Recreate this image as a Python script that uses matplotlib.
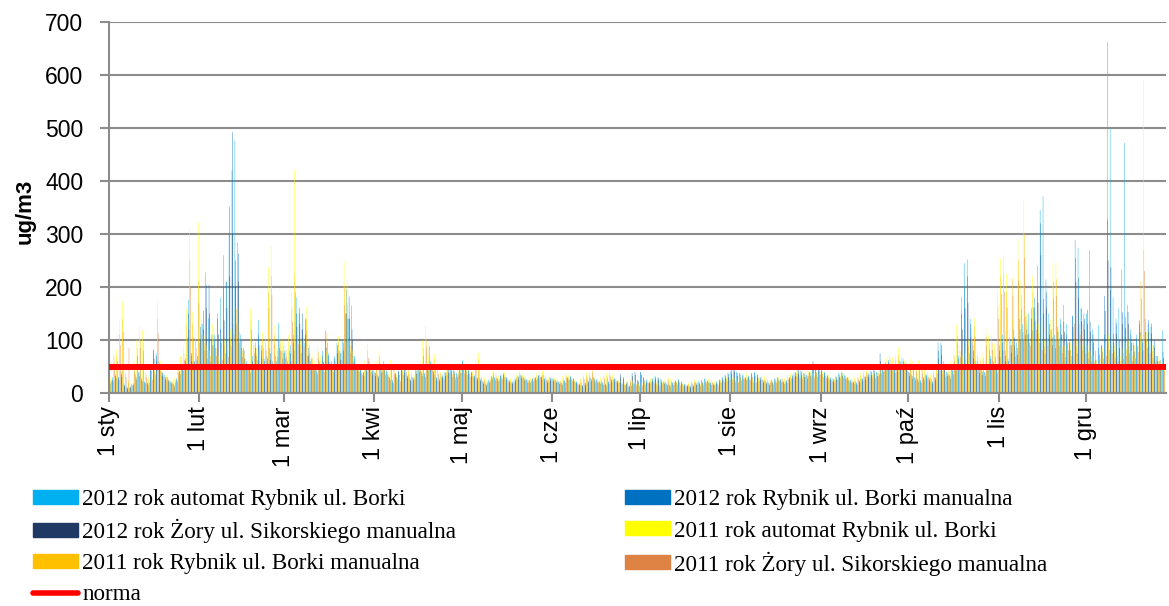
import numpy as np
import matplotlib
matplotlib.use("Agg")
import matplotlib.pyplot as plt
from matplotlib.patches import Patch
from matplotlib.lines import Line2D

# daily PM10 values, 1 sty .. 27 gru (one row per month)
auto_2012 = [
    22, 30, 35, 28, 40, 18, 12, 10, 14, 35, 40, 28, 22, 20, 55, 80, 75, 60, 40, 35, 30, 22, 18, 28, 42, 55, 65, 176, 70, 58, 62,
    95, 130, 227, 141, 100, 110, 150, 180, 260, 210, 300, 420, 476, 284, 110, 85, 60, 45, 70, 95, 137, 90, 65, 70, 85, 60, 70, 132, 55,
    75, 60, 90, 110, 180, 150, 120, 95, 70, 60, 55, 45, 60, 80, 118, 75, 60, 70, 95, 80, 100, 150, 140, 165, 70, 55, 48, 40, 52, 60, 45,
    40, 35, 50, 60, 45, 30, 25, 38, 42, 55, 48, 35, 28, 30, 45, 52, 40, 38, 55, 60, 42, 30, 28, 35, 40, 48, 52, 45, 38, 45,
    62, 55, 45, 40, 35, 30, 28, 22, 18, 25, 32, 30, 28, 35, 38, 30, 25, 22, 28, 32, 35, 30, 26, 24, 28, 30, 34, 32, 28, 25, 30,
    28, 25, 22, 20, 24, 30, 32, 28, 22, 18, 15, 20, 25, 28, 30, 26, 22, 20, 18, 22, 26, 28, 24, 20, 18, 15, 12, 14, 18, 22,
    38, 30, 25, 22, 28, 32, 30, 26, 22, 18, 16, 20, 24, 26, 22, 18, 15, 14, 16, 20, 22, 25, 28, 24, 20, 18, 22, 26, 30, 35, 38,
    42, 45, 40, 38, 35, 30, 32, 38, 40, 36, 30, 25, 22, 20, 25, 28, 30, 26, 22, 24, 30, 35, 40, 44, 42, 38, 35, 40, 45, 48, 55,
    45, 40, 35, 30, 28, 32, 38, 40, 35, 30, 25, 22, 20, 24, 28, 32, 38, 42, 45, 40, 35, 50, 58, 62, 55, 48, 52, 60, 65, 58,
    40, 35, 30, 28, 25, 30, 35, 28, 22, 30, 95, 95, 60, 40, 35, 45, 55, 70, 181, 245, 252, 140, 90, 60, 50, 45, 40, 55, 70, 60, 50,
    90, 110, 80, 65, 100, 120, 95, 140, 130, 110, 150, 160, 180, 241, 345, 371, 214, 150, 120, 110, 125, 140, 166, 130, 100, 145, 289, 274, 160, 150,
    150, 269, 120, 80, 128, 90, 110, 662, 500, 180, 140, 160, 232, 472, 166, 120, 95, 110, 130, 100, 140, 130, 125, 90, 70, 60, 118,
]
rybnik_2012 = [
    20, 25, 32, 30, 35, 15, 10, 12, 18, 30, 38, 25, 20, 18, 50, 82, 70, 55, 38, 30, 25, 20, 15, 25, 40, 50, 60, 150, 75, 60, 70,
    125, 155, 204, 204, 110, 100, 140, 120, 200, 210, 351, 492, 250, 263, 100, 80, 55, 45, 60, 85, 110, 80, 60, 65, 75, 55, 60, 100, 80,
    80, 55, 75, 95, 150, 160, 150, 140, 85, 65, 50, 40, 55, 70, 100, 70, 55, 65, 90, 75, 95, 196, 182, 120, 65, 50, 45, 38, 48, 55, 42,
    38, 32, 45, 55, 40, 28, 22, 35, 40, 50, 45, 32, 25, 28, 42, 48, 38, 35, 50, 55, 40, 28, 25, 32, 38, 45, 48, 42, 35, 45,
    58, 50, 42, 38, 32, 28, 25, 20, 16, 22, 30, 28, 25, 32, 35, 28, 22, 20, 25, 30, 32, 28, 24, 22, 26, 28, 32, 30, 26, 22, 28,
    26, 22, 20, 18, 22, 28, 30, 26, 20, 16, 14, 18, 22, 26, 28, 24, 20, 18, 16, 20, 24, 26, 22, 36, 30, 20, 14, 38, 40, 25,
    40, 28, 22, 20, 26, 30, 28, 24, 20, 16, 14, 18, 22, 24, 20, 16, 14, 12, 14, 18, 20, 22, 26, 22, 18, 16, 20, 24, 28, 32, 36,
    43, 47, 38, 36, 32, 28, 30, 36, 38, 34, 28, 22, 20, 18, 22, 26, 28, 24, 20, 22, 28, 32, 38, 43, 40, 36, 32, 38, 60, 45, 50,
    42, 38, 32, 28, 25, 30, 35, 38, 32, 28, 22, 20, 18, 22, 26, 30, 35, 40, 42, 38, 75, 48, 55, 58, 50, 45, 48, 55, 60, 55,
    38, 32, 28, 25, 22, 28, 32, 25, 20, 28, 80, 90, 55, 38, 32, 42, 50, 65, 150, 200, 220, 130, 80, 55, 45, 40, 38, 50, 65, 55, 45,
    80, 95, 70, 60, 90, 105, 85, 120, 115, 144, 112, 140, 160, 200, 320, 177, 190, 130, 105, 100, 115, 130, 134, 110, 95, 146, 254, 217, 159, 140,
    157, 134, 110, 63, 85, 90, 183, 326, 194, 112, 131, 100, 152, 144, 153, 110, 90, 103, 137, 95, 115, 137, 131, 100, 70, 62, 78,
]
zory_2012 = [
    18, 22, 28, 25, 30, 12, 8, 10, 15, 25, 32, 22, 18, 15, 42, 65, 60, 48, 32, 25, 22, 18, 12, 22, 35, 42, 50, 120, 60, 50, 55,
    100, 120, 160, 150, 90, 85, 110, 95, 137, 160, 220, 300, 200, 210, 85, 65, 45, 38, 50, 70, 90, 65, 50, 55, 62, 45, 50, 85, 65,
    65, 45, 60, 80, 125, 130, 120, 110, 70, 52, 42, 35, 45, 58, 85, 58, 45, 55, 75, 62, 80, 150, 140, 100, 52, 42, 38, 32, 40, 45, 35,
    32, 28, 38, 45, 34, 24, 18, 30, 34, 42, 38, 28, 22, 24, 36, 40, 32, 30, 42, 46, 34, 24, 22, 28, 32, 38, 40, 36, 30, 38,
    48, 42, 36, 32, 28, 24, 22, 17, 14, 19, 26, 24, 22, 28, 30, 24, 19, 17, 22, 26, 28, 24, 20, 19, 22, 24, 28, 26, 22, 19, 24,
    22, 19, 17, 15, 19, 24, 26, 22, 17, 14, 12, 15, 19, 22, 24, 20, 17, 15, 14, 17, 20, 22, 19, 30, 26, 17, 12, 32, 34, 21,
    34, 24, 19, 17, 22, 26, 24, 20, 17, 14, 12, 15, 19, 20, 17, 14, 12, 10, 12, 15, 17, 19, 22, 19, 15, 14, 17, 20, 24, 27, 30,
    36, 40, 32, 30, 27, 24, 25, 30, 32, 29, 24, 19, 17, 15, 19, 22, 24, 20, 17, 19, 24, 27, 32, 36, 34, 30, 27, 32, 45, 38, 42,
    36, 32, 27, 24, 21, 25, 30, 32, 27, 24, 19, 17, 15, 19, 22, 25, 30, 34, 36, 32, 60, 40, 46, 48, 42, 38, 40, 46, 50, 46,
    32, 27, 24, 21, 19, 24, 27, 21, 17, 24, 65, 72, 46, 32, 27, 35, 42, 55, 120, 160, 170, 105, 65, 46, 38, 34, 32, 42, 55, 46, 38,
    68, 80, 60, 50, 76, 90, 72, 100, 98, 120, 95, 118, 135, 170, 260, 150, 160, 110, 90, 85, 98, 110, 115, 95, 80, 125, 210, 180, 135, 120,
    130, 115, 95, 55, 72, 78, 155, 250, 237, 95, 112, 85, 130, 122, 130, 95, 78, 88, 115, 80, 98, 115, 112, 85, 60, 52, 66,
]
auto_2011 = [
    30, 80, 82, 137, 172, 40, 25, 20, 60, 100, 126, 118, 40, 30, 35, 45, 173, 60, 40, 35, 28, 25, 30, 55, 70, 90, 159, 311, 153, 120, 322,
    150, 110, 90, 80, 130, 95, 70, 85, 100, 90, 120, 150, 110, 130, 90, 75, 60, 158, 100, 85, 70, 115, 108, 238, 277, 128, 90, 110, 100,
    90, 110, 190, 421, 130, 100, 120, 163, 100, 75, 60, 88, 70, 55, 80, 65, 55, 70, 107, 84, 249, 206, 100, 80, 60, 55, 45, 60, 94, 55, 50,
    60, 80, 55, 45, 40, 62, 50, 35, 30, 45, 55, 48, 40, 35, 50, 60, 100, 127, 70, 65, 74, 50, 40, 35, 45, 52, 40, 35, 45, 50,
    50, 45, 40, 42, 64, 76, 35, 30, 25, 30, 45, 38, 32, 35, 40, 30, 28, 25, 35, 43, 38, 32, 28, 30, 34, 38, 40, 45, 35, 30, 32,
    30, 28, 25, 32, 38, 35, 30, 25, 22, 28, 35, 38, 40, 32, 28, 25, 30, 35, 38, 42, 35, 30, 25, 22, 20, 25, 28, 22, 20, 18,
    20, 22, 25, 28, 24, 20, 18, 22, 26, 30, 28, 25, 22, 20, 18, 16, 20, 24, 26, 22, 18, 20, 24, 28, 25, 22, 20, 25, 28, 30, 32,
    30, 28, 25, 30, 35, 38, 32, 28, 25, 30, 35, 32, 28, 25, 22, 25, 30, 32, 28, 35, 38, 40, 42, 38, 35, 40, 44, 42, 38, 40, 45,
    40, 38, 35, 30, 28, 32, 36, 38, 35, 30, 28, 30, 34, 38, 42, 45, 40, 38, 35, 42, 50, 55, 65, 75, 68, 72, 86, 70, 62, 55,
    65, 60, 55, 62, 50, 45, 40, 35, 42, 50, 55, 48, 40, 45, 60, 82, 128, 90, 70, 75, 100, 141, 141, 80, 68, 75, 122, 110, 110, 92, 194,
    254, 260, 225, 120, 140, 92, 291, 212, 363, 150, 120, 220, 161, 130, 110, 100, 120, 140, 245, 247, 119, 100, 90, 110, 95, 80, 100, 120, 90, 100,
    90, 80, 70, 60, 75, 85, 95, 110, 100, 90, 80, 70, 85, 95, 100, 80, 90, 103, 110, 590, 115, 100, 90, 80, 70, 60, 55,
]
rybnik_2011 = [
    25, 70, 70, 110, 140, 35, 20, 18, 50, 85, 100, 95, 35, 25, 30, 40, 140, 50, 35, 30, 25, 22, 25, 45, 68, 75, 130, 250, 130, 100, 211,
    130, 95, 80, 70, 110, 85, 60, 75, 90, 80, 105, 130, 159, 115, 80, 65, 55, 140, 90, 75, 60, 100, 95, 190, 220, 110, 80, 95, 90,
    80, 95, 160, 223, 110, 90, 105, 140, 90, 65, 52, 78, 60, 48, 113, 58, 48, 60, 95, 75, 200, 170, 90, 70, 52, 48, 40, 52, 80, 48, 45,
    52, 70, 48, 40, 35, 55, 44, 30, 26, 40, 48, 42, 35, 30, 44, 52, 85, 100, 88, 58, 64, 44, 35, 30, 40, 45, 35, 30, 40, 44,
    44, 40, 35, 37, 55, 64, 30, 26, 22, 26, 40, 33, 28, 30, 35, 26, 24, 22, 30, 38, 33, 28, 24, 26, 30, 33, 35, 40, 30, 26, 28,
    26, 24, 22, 28, 33, 30, 26, 22, 19, 24, 30, 33, 35, 45, 24, 22, 26, 30, 33, 37, 30, 26, 22, 19, 17, 22, 24, 19, 17, 16,
    17, 19, 22, 24, 21, 17, 16, 19, 22, 26, 24, 22, 19, 17, 16, 14, 17, 21, 22, 19, 16, 17, 21, 24, 22, 19, 17, 22, 24, 26, 28,
    26, 24, 22, 26, 30, 33, 28, 24, 22, 26, 30, 28, 24, 22, 19, 22, 26, 28, 24, 30, 33, 35, 37, 33, 30, 35, 38, 37, 33, 35, 40,
    35, 33, 30, 26, 24, 28, 31, 33, 30, 26, 24, 26, 30, 33, 37, 40, 35, 33, 30, 37, 44, 48, 56, 65, 60, 62, 72, 60, 54, 48,
    56, 52, 48, 54, 44, 40, 35, 30, 37, 44, 48, 42, 35, 40, 52, 70, 110, 80, 60, 65, 88, 120, 125, 70, 60, 65, 105, 95, 95, 80, 165,
    220, 225, 190, 105, 216, 80, 250, 185, 300, 130, 105, 190, 140, 112, 95, 88, 105, 120, 210, 215, 105, 88, 80, 95, 82, 70, 88, 130, 80, 88,
    78, 70, 60, 52, 65, 75, 82, 95, 88, 78, 70, 60, 75, 82, 88, 70, 78, 90, 210, 270, 100, 88, 78, 70, 60, 52, 48,
]
zory_2011 = [
    22, 55, 60, 90, 115, 30, 85, 15, 40, 70, 85, 80, 30, 20, 25, 35, 112, 42, 30, 25, 20, 18, 20, 38, 55, 62, 105, 200, 105, 85, 170,
    110, 80, 65, 60, 90, 70, 50, 62, 75, 68, 88, 110, 130, 95, 68, 55, 45, 120, 75, 62, 50, 85, 80, 160, 185, 92, 68, 80, 75,
    68, 80, 135, 190, 92, 75, 88, 118, 75, 55, 44, 65, 50, 40, 95, 48, 40, 50, 80, 62, 165, 140, 75, 58, 44, 40, 34, 44, 66, 40, 38,
    44, 58, 40, 34, 30, 46, 37, 26, 22, 34, 40, 35, 30, 26, 37, 44, 70, 85, 88, 50, 54, 37, 30, 26, 34, 38, 30, 26, 34, 37,
    37, 34, 30, 31, 46, 54, 26, 22, 19, 22, 34, 28, 24, 26, 30, 22, 20, 19, 26, 32, 28, 24, 20, 22, 26, 28, 30, 34, 26, 22, 24,
    22, 20, 19, 24, 28, 26, 22, 19, 16, 20, 26, 28, 30, 38, 20, 19, 22, 26, 28, 31, 26, 22, 19, 16, 14, 19, 20, 16, 14, 13,
    14, 16, 19, 20, 18, 14, 13, 16, 19, 22, 20, 19, 16, 14, 13, 12, 14, 18, 19, 16, 13, 14, 18, 20, 19, 16, 14, 19, 20, 22, 24,
    22, 20, 19, 22, 26, 28, 24, 20, 19, 22, 26, 24, 20, 19, 16, 19, 22, 24, 20, 26, 28, 30, 31, 28, 26, 30, 32, 31, 28, 30, 34,
    30, 28, 26, 22, 20, 24, 26, 28, 26, 22, 20, 22, 26, 28, 31, 34, 30, 28, 26, 31, 37, 41, 48, 55, 51, 53, 61, 51, 46, 41,
    48, 44, 41, 46, 37, 34, 30, 26, 31, 37, 41, 36, 30, 34, 44, 60, 94, 68, 51, 55, 75, 102, 106, 60, 51, 55, 89, 81, 81, 68, 140,
    187, 191, 162, 89, 184, 68, 212, 157, 255, 110, 89, 162, 119, 95, 81, 75, 89, 102, 179, 183, 89, 75, 68, 81, 70, 131, 75, 110, 130, 75,
    66, 60, 51, 44, 55, 64, 70, 81, 75, 66, 60, 51, 64, 70, 75, 60, 66, 77, 178, 230, 85, 75, 66, 60, 51, 44, 41,
]
norma = 50

month_starts = [0, 31, 60, 91, 121, 152, 182, 213, 244, 274, 305, 335]
month_labels = ['1 sty', '1 lut', '1 mar', '1 kwi', '1 maj', '1 cze',
                '1 lip', '1 sie', '1 wrz', '1 paź', '1 lis', '1 gru']

series = [auto_2012, rybnik_2012, zory_2012, auto_2011, rybnik_2011, zory_2011]
names = ['2012 rok automat Rybnik ul. Borki', '2012 rok Rybnik ul. Borki manualna',
         '2012 rok Żory ul. Sikorskiego manualna', '2011 rok automat Rybnik ul. Borki',
         '2011 rok Rybnik ul. Borki manualna', '2011 rok Żory ul. Sikorskiego manualna']
colors = ['#00B0F0', '#0070C0', '#1F3864', '#FFFF00', '#FFC000', '#DF8344']

plt.rcParams['font.family'] = ['Liberation Sans', 'DejaVu Sans']

W, H = 1169, 606
fig = plt.figure(figsize=(W / 100, H / 100), dpi=100)
ax = fig.add_axes([109 / W, 1 - 393 / H, 1057 / W, 371 / H])

# bars are narrower than a pixel, so no snapping: let them blend like Excel does
w = 0.14
for k, (vals, col) in enumerate(zip(series, colors)):
    x = np.arange(len(vals)) + 0.5 + (k - 2.5) * w
    ax.bar(x, vals, width=w, color=col, linewidth=0, zorder=2, snap=False)

ax.axhline(norma, color='#FF0000', linewidth=4.3, zorder=3)

ax.set_xlim(0, 362.3)
ax.set_ylim(0, 700)
ax.set_yticks(range(0, 701, 100))
ax.yaxis.grid(True, color='#8C8C8C', linewidth=1.5, zorder=0)
ax.set_axisbelow(True)
ax.set_xticks(month_starts)
ax.set_xticklabels(month_labels, rotation=90, fontsize=17)
ax.tick_params(axis='y', labelsize=16.5, length=6.5, pad=12, color='#8C8C8C', width=1.5)
ax.tick_params(axis='x', length=6.5, pad=3, color='#8C8C8C', width=1.5)
for s in ['top', 'right']:
    ax.spines[s].set_visible(False)
for s in ['left', 'bottom']:
    ax.spines[s].set_color('#8C8C8C')
    ax.spines[s].set_linewidth(1.5)
ax.set_ylabel('ug/m3', fontsize=16, fontweight='bold')
ax.yaxis.set_label_coords(-0.069, 0.49)

# legend: one small legend per entry so both columns stay on the same rows
patches = [Patch(color=c, label=n) for c, n in zip(colors, names)]
norm_handle = Line2D([], [], color='#FF0000', linewidth=4.0,
                     solid_capstyle='round', label='norma')
entries = patches + [norm_handle]
slots = [(33, 499.5), (625, 499.5), (33, 531), (625, 531),
         (33, 563.5), (625, 563.5), (33, 595)]
for h, (lx, ly) in zip(entries, slots):
    fig.legend(handles=[h], loc='center left', bbox_to_anchor=(lx / W, 1 - ly / H),
               frameon=False, prop={'family': 'Liberation Serif', 'size': 16.7},
               handlelength=1.95, handleheight=0.55, handletextpad=0.18,
               borderpad=0, borderaxespad=0)

fig.savefig('out.png', dpi=100)
